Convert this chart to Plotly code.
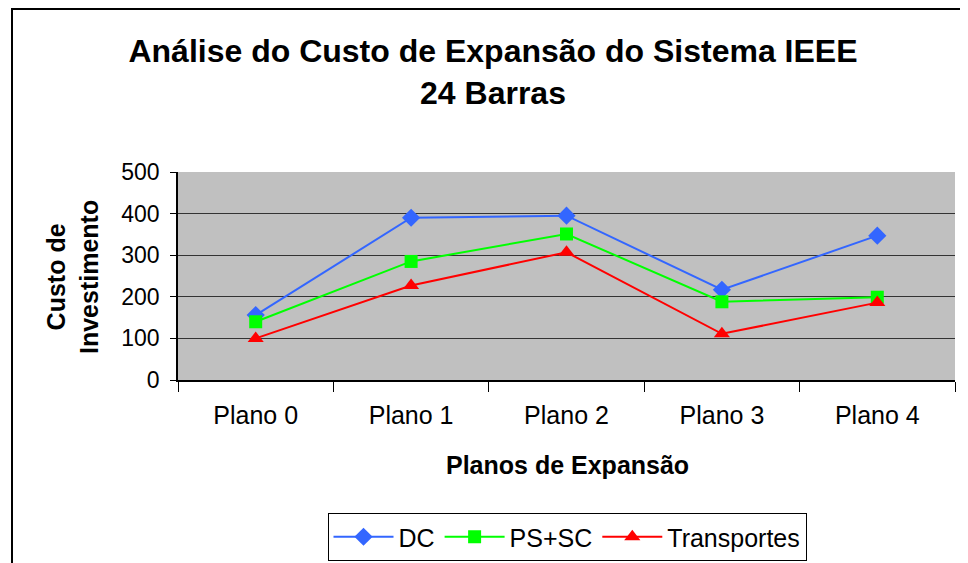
import plotly.graph_objects as go

categories = ["Plano 0", "Plano 1", "Plano 2", "Plano 3", "Plano 4"]
dc = [156, 390, 395, 217, 347]
ps_sc = [140, 285, 351, 188, 199]
transportes = [100, 227, 307, 111, 186]
y_ticks = [0, 100, 200, 300, 400, 500]

FONT = "Liberation Sans, Arial, sans-serif"
OFF = 8  # page body margin offset
L, R, T, B = 178 - OFF, 955 - OFF, 172 - OFF, 380 - OFF
W, H = R - L, B - T


def px(xs):
    return (xs - OFF - L) / W


def py(ys):
    return (B - (ys - OFF)) / H


fig = go.Figure()
fig.add_trace(go.Scatter(x=categories, y=dc, name="DC", mode="lines+markers",
                         line=dict(color="#3366FF", width=2),
                         marker=dict(symbol="diamond", size=14, color="#3366FF")))
fig.add_trace(go.Scatter(x=categories, y=ps_sc, name="PS+SC", mode="lines+markers",
                         line=dict(color="#00FF00", width=2),
                         marker=dict(symbol="square", size=13, color="#00FF00")))
fig.add_trace(go.Scatter(x=categories, y=transportes, name="Transportes", mode="lines+markers",
                         line=dict(color="#FF0000", width=2),
                         marker=dict(symbol="triangle-up", size=14, color="#FF0000")))

fig.update_layout(
    width=968, height=563,
    margin=dict(l=L, r=968 - R, t=T, b=563 - B, autoexpand=False),
    paper_bgcolor="white", plot_bgcolor="#C0C0C0",
    font=dict(family=FONT, size=20, color="black"),
    title=dict(text="<b>Análise do Custo de Expansão do Sistema IEEE<br>24 Barras</b>",
               x=485 / 968, xanchor="center", y=0.904, yanchor="top",
               font=dict(size=32, family=FONT)),
    showlegend=True,
    legend=dict(orientation="h", x=px(567), xanchor="center",
                y=py(513), yanchor="top",
                bordercolor="black", borderwidth=1, bgcolor="white",
                font=dict(size=25, family=FONT), itemwidth=60, tracegroupgap=0),
    xaxis=dict(range=[-0.5, 4.5], automargin=False,
               showline=True, linecolor="black", linewidth=1.5,
               ticks="outside", ticklen=10, tickcolor="black", tickson="boundaries",
               ticklabelstandoff=12,
               showgrid=False, tickfont=dict(size=25)),
    yaxis=dict(range=[0, 500], tickvals=y_ticks, automargin=False,
               showline=True, linecolor="black", linewidth=1.5,
               ticks="outside", ticklen=6, tickcolor="black", ticklabelstandoff=6,
               showgrid=True, gridcolor="#333333", gridwidth=1, zeroline=False,
               tickfont=dict(size=23)),
    annotations=[
        dict(text="<b>Planos de Expansão</b>", xref="paper", yref="paper",
             x=px(567), y=py(465), xanchor="center", yanchor="middle",
             showarrow=False, font=dict(size=25, family=FONT)),
        dict(text="<b>Custo de<br>Investimento</b>", xref="paper", yref="paper",
             x=px(72), y=py(277), xanchor="center", yanchor="middle",
             textangle=-90, showarrow=False, font=dict(size=25, family=FONT)),
    ],
)

fig.add_shape(type="rect", xref="paper", yref="paper",
              x0=px(12), x1=px(990), y0=py(590), y1=py(9),
              line=dict(color="black", width=2), fillcolor="rgba(0,0,0,0)", layer="below")

fig.write_html("out.html")
